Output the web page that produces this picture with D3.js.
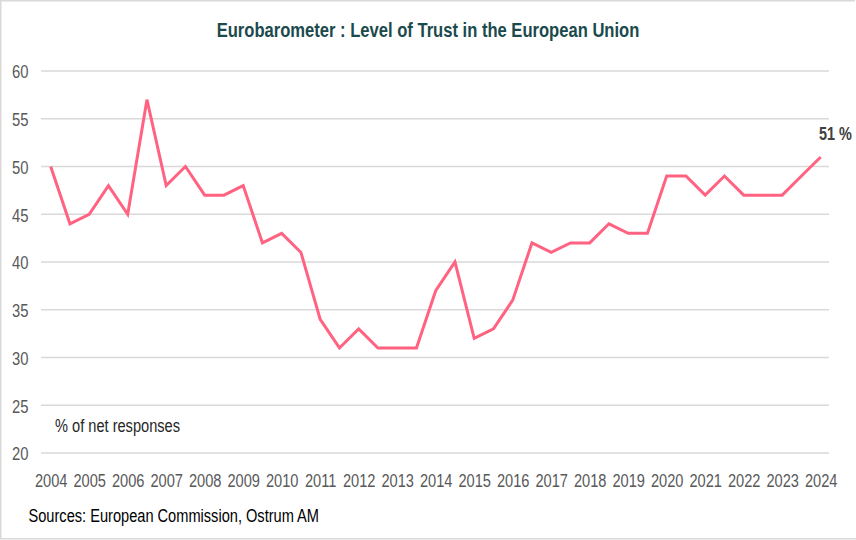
<!DOCTYPE html>
<html>
<head>
<meta charset="utf-8">
<script src="https://cdn.jsdelivr.net/npm/d3@7"></script>
<style>
  html, body { margin: 0; padding: 0; background: #ffffff; }
  svg { display: block; }
  text { font-family: "Liberation Sans", Arial, sans-serif; }
</style>
</head>
<body>
<svg id="chart" width="856" height="540"></svg>
<script>
const periods = [2004.0, 2004.5, 2005.0, 2005.5, 2006.0, 2006.5, 2007.0, 2007.5, 2008.0, 2008.5,
  2009.0, 2009.5, 2010.0, 2010.5, 2011.0, 2011.5, 2012.0, 2012.5, 2013.0, 2013.5,
  2014.0, 2014.5, 2015.0, 2015.5, 2016.0, 2016.5, 2017.0, 2017.5, 2018.0, 2018.5,
  2019.0, 2019.5, 2020.0, 2020.5, 2021.0, 2021.5, 2022.0, 2022.5, 2023.0, 2023.5, 2024.0];
const trust = [50, 44, 45, 48, 45, 57, 48, 50, 47, 47,
  48, 42, 43, 41, 34, 31, 33, 31, 31, 31,
  37, 40, 32, 33, 36, 42, 41, 42, 42, 44,
  43, 43, 49, 49, 47, 49, 47, 47, 47, 49, 51];
const yearTicks = [2004, 2005, 2006, 2007, 2008, 2009, 2010, 2011, 2012, 2013, 2014,
  2015, 2016, 2017, 2018, 2019, 2020, 2021, 2022, 2023, 2024];
const yTicks = [20, 25, 30, 35, 40, 45, 50, 55, 60];
const title = "Eurobarometer : Level of Trust in the European Union";
const unitLabel = "% of net responses";
const source = "Sources: European Commission, Ostrum AM";
const lastLabel = "51 %";

const svg = d3.select("#chart");
const NARROW = 0.8;

// condense a text horizontally around its own x anchor
function narrow(sel, f) {
  sel.each(function () {
    const t = d3.select(this);
    const X = +t.attr("x") || 0;
    t.attr("transform", `translate(${X},0) scale(${f},1) translate(${-X},0)`);
  });
}

// frame
svg.append("path")
  .attr("d", "M855,0.75 H0.75 V538.75 H856")
  .attr("fill", "none").attr("stroke", "#d9d9d9").attr("stroke-width", 1.5);

const x = d3.scaleLinear().domain([2004, 2024]).range([50.7, 820.7]);
const y = d3.scaleLinear().domain([20, 60]).range([453, 71]);
const gridX0 = 41, gridX1 = 829;

// grid
svg.append("g").selectAll("line").data(yTicks).join("line")
  .attr("x1", gridX0).attr("x2", gridX1)
  .attr("y1", d => y(d)).attr("y2", d => y(d))
  .attr("stroke", "#d9d9d9").attr("stroke-width", 1.5);

// y axis labels
const yAxis = d3.axisLeft(y).tickValues(yTicks).tickSize(0).tickPadding(0);
const gy = svg.append("g").attr("transform", "translate(28.5,0)").call(yAxis);
gy.select(".domain").remove();
gy.selectAll("text")
  .attr("fill", "#595959").attr("font-size", 19).attr("dy", "0.36em")
  .style("font-family", "'Liberation Sans', Arial, sans-serif")
  .call(narrow, 0.78);

// x axis labels
const xAxis = d3.axisBottom(x).tickValues(yearTicks).tickFormat(d3.format("d")).tickSize(0).tickPadding(0);
const gx = svg.append("g").attr("transform", "translate(0,487)").call(xAxis);
gx.select(".domain").remove();
gx.selectAll("text")
  .attr("fill", "#595959").attr("font-size", 19).attr("dy", 0).attr("y", 0)
  .style("font-family", "'Liberation Sans', Arial, sans-serif")
  .call(narrow, 0.77);

// line
const line = d3.line().x((d, i) => x(periods[i])).y(d => y(d));
svg.append("path").datum(trust)
  .attr("d", line)
  .attr("fill", "none").attr("stroke", "#ff6381").attr("stroke-width", 3)
  .attr("stroke-linejoin", "miter");

// last value label
svg.append("text")
  .attr("x", x(periods[periods.length - 1]) - 1.7).attr("y", y(trust[trust.length - 1]) - 17)
  .attr("font-size", 19).attr("font-weight", "bold").attr("fill", "#404040")
  .text(lastLabel)
  .call(narrow, 0.76);

// title
svg.append("text")
  .attr("x", 428).attr("y", 37).attr("text-anchor", "middle")
  .attr("font-size", 21).attr("font-weight", "bold").attr("fill", "#1b4a4d")
  .text(title)
  .call(narrow, 0.79);

// unit label
svg.append("text")
  .attr("x", 55).attr("y", 432)
  .attr("font-size", 18.5).attr("fill", "#262626")
  .text(unitLabel)
  .call(narrow, 0.79);

// source
svg.append("text")
  .attr("x", 28.5).attr("y", 522)
  .attr("font-size", 18.5).attr("fill", "#000000")
  .text(source)
  .call(narrow, 0.79);
</script>
</body>
</html>
